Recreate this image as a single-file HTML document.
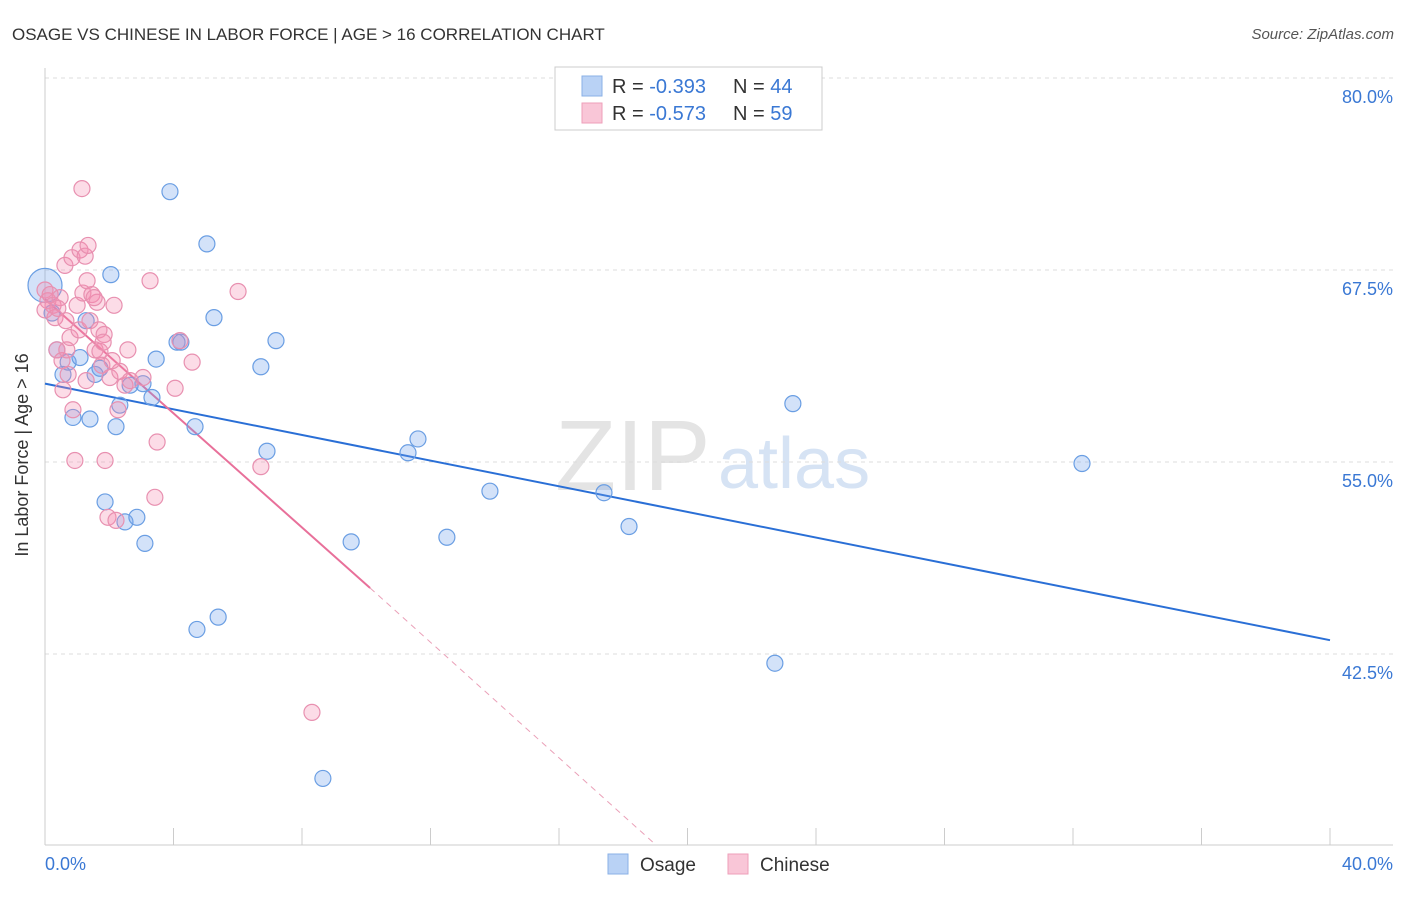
<!DOCTYPE html>
<html><head><meta charset="utf-8"><style>
body{margin:0;background:#fff;font-family:"Liberation Sans",sans-serif;}
svg text{font-family:"Liberation Sans",sans-serif;}
</style></head><body>
<svg id="chart" width="1406" height="892" xmlns="http://www.w3.org/2000/svg">
<text x="12" y="40" font-size="17" fill="#333">OSAGE VS CHINESE IN LABOR FORCE | AGE &gt; 16 CORRELATION CHART</text>
<text x="1394" y="39" font-size="15" fill="#555" font-style="italic" text-anchor="end">Source: ZipAtlas.com</text>
<text x="555" y="490" font-size="100" fill="#e4e4e4" font-family="Liberation Serif">ZIP</text>
<text x="718" y="488" font-size="72" fill="#d6e3f4">atlas</text>
<g id="grid"></g><g id="axes"></g><g id="lines"></g><g id="points"></g>
<text x="28" y="455" font-size="18" fill="#333" text-anchor="middle" transform="rotate(-90 28 455)">In Labor Force | Age &gt; 16</text>
<g>
<rect x="555" y="67" width="267" height="63" fill="#fff" stroke="#ccc"/>
<rect x="582" y="76" width="20" height="20" fill="#b9d2f5" stroke="#8ab0e6"/>
<rect x="582" y="103" width="20" height="20" fill="#f9c6d7" stroke="#ee9fba"/>
<text x="612" y="93" font-size="20" fill="#333">R = <tspan fill="#3a78d4">-0.393</tspan></text>
<text x="733" y="93" font-size="20" fill="#333">N = <tspan fill="#3a78d4">44</tspan></text>
<text x="612" y="120" font-size="20" fill="#333">R = <tspan fill="#3a78d4">-0.573</tspan></text>
<text x="733" y="120" font-size="20" fill="#333">N = <tspan fill="#3a78d4">59</tspan></text>
</g>
<g>
<rect x="608" y="854" width="20" height="20" fill="#b9d2f5" stroke="#8ab0e6"/>
<text x="640" y="871" font-size="19" fill="#333">Osage</text>
<rect x="728" y="854" width="20" height="20" fill="#f9c6d7" stroke="#ee9fba"/>
<text x="760" y="871" font-size="19" fill="#333">Chinese</text>
</g>
</svg>
<script>
const yTicks=[80,67.5,55,42.5];
const yTickLabels=["80.0%","67.5%","55.0%","42.5%"];
const xTicks=[0,4,8,12,16,20,24,28,32,36,40];
const xEndLabels=["0.0%","40.0%"];
const osageX=[0,0.22,0.37,0.56,0.72,0.87,1.09,1.28,1.40,1.56,1.71,1.87,2.05,2.21,2.33,2.49,2.65,2.86,3.05,3.11,3.33,3.46,3.89,4.11,4.23,4.67,4.73,5.04,5.26,5.39,6.72,6.91,7.19,8.65,9.53,11.30,11.61,12.51,13.85,17.40,18.18,22.72,23.28,32.28];
const osageY=[66.5,64.7,62.3,60.7,61.5,57.9,61.8,64.2,57.8,60.7,61.1,52.4,67.2,57.3,58.7,51.1,60.0,51.4,60.1,49.7,59.2,61.7,72.6,62.8,62.8,57.3,44.1,69.2,64.4,44.9,61.2,55.7,62.9,34.4,49.8,55.6,56.5,50.1,53.1,53.0,50.8,41.9,58.8,54.9];
const chineseX=[0,0.09,0.16,0.25,0.31,0.37,0.47,0.53,0.56,0.62,0.68,0.72,0.78,0.84,0.87,0.93,1.0,1.06,1.09,1.15,1.18,1.25,1.28,1.31,1.34,1.40,1.46,1.56,1.62,1.68,1.71,1.77,1.84,1.87,1.96,2.02,2.15,2.21,2.27,2.33,2.49,2.58,2.65,3.05,3.27,3.49,3.42,4.05,4.20,4.58,6.01,6.72,8.31,0,0.40,0.65,1.53,1.81,2.09];
const chineseY=[66.2,65.5,65.9,65.2,64.4,62.3,65.7,61.6,59.7,67.8,62.3,60.7,63.1,68.3,58.4,55.1,65.2,63.6,68.8,72.8,66.0,68.4,60.3,66.8,69.1,64.2,65.9,62.3,65.4,63.6,62.2,61.3,63.3,55.1,51.4,60.5,65.2,51.2,58.4,60.9,60.0,62.3,60.3,60.5,66.8,56.3,52.7,59.8,62.9,61.5,66.1,54.7,38.7,64.9,65.0,64.2,65.7,62.8,61.6];
const osageTrend=[[0,60.1],[40,43.4]];
const chineseTrend=[[0,65.6],[10.12,46.8]];
const chineseTrendExt=[[10.12,46.8],[19.0,30.1]];

const NS="http://www.w3.org/2000/svg";
const xs=v=>45+v/40*1285;
const ys=v=>78+(80-v)*15.36;
function mk(tag,attrs,parent){const e=document.createElementNS(NS,tag);for(const k in attrs)e.setAttribute(k,attrs[k]);document.getElementById(parent).appendChild(e);return e;}
yTicks.forEach((t,i)=>{
 const l=mk('line',{x1:45,x2:1393,y1:ys(t),y2:ys(t),stroke:'#ddd','stroke-dasharray':'4,4'},'grid');
 
 
 const tx=mk('text',{x:1393,y:ys(t)+25,'font-size':18,fill:'#3a78d4','text-anchor':'end'},'grid');
 tx.textContent=yTickLabels[i];
 
 
});
let a=mk('line',{x1:45,x2:45,y1:68,y2:845,stroke:'#ccc'},'axes');


a=mk('line',{x1:45,x2:1393,y1:845,y2:845,stroke:'#ccc'},'axes');


xTicks.forEach(t=>{
 const l=mk('line',{x1:xs(t),x2:xs(t),y1:828,y2:845,stroke:'#ccc'},'axes');
 
 
});
let t0=mk('text',{x:45,y:870,'font-size':18,fill:'#3a78d4'},'axes');t0.textContent=xEndLabels[0];


t0=mk('text',{x:1393,y:870,'font-size':18,fill:'#3a78d4','text-anchor':'end'},'axes');t0.textContent=xEndLabels[1];


osageX.forEach((x,i)=>{
 const c=mk('circle',{cx:xs(x),cy:ys(osageY[i]),r:i===0?17:8,fill:'rgba(110,160,235,0.3)',stroke:'#6a9ee3','stroke-width':1.2},'points');
 
 
});
chineseX.forEach((x,i)=>{
 const c=mk('circle',{cx:xs(x),cy:ys(chineseY[i]),r:8,fill:'rgba(245,140,175,0.3)',stroke:'#e890b0','stroke-width':1.2},'points');
 
 
});
let ln=mk('line',{x1:xs(osageTrend[0][0]),y1:ys(osageTrend[0][1]),x2:xs(osageTrend[1][0]),y2:ys(osageTrend[1][1]),stroke:'#2a6fd6','stroke-width':2},'lines');


ln=mk('line',{x1:xs(chineseTrend[0][0]),y1:ys(chineseTrend[0][1]),x2:xs(chineseTrend[1][0]),y2:ys(chineseTrend[1][1]),stroke:'#e8709a','stroke-width':2},'lines');


ln=mk('line',{x1:xs(chineseTrendExt[0][0]),y1:ys(chineseTrendExt[0][1]),x2:xs(chineseTrendExt[1][0]),y2:ys(chineseTrendExt[1][1]),stroke:'#eaa0b8','stroke-width':1,'stroke-dasharray':'6,5'},'lines');


</script>
</body></html>
